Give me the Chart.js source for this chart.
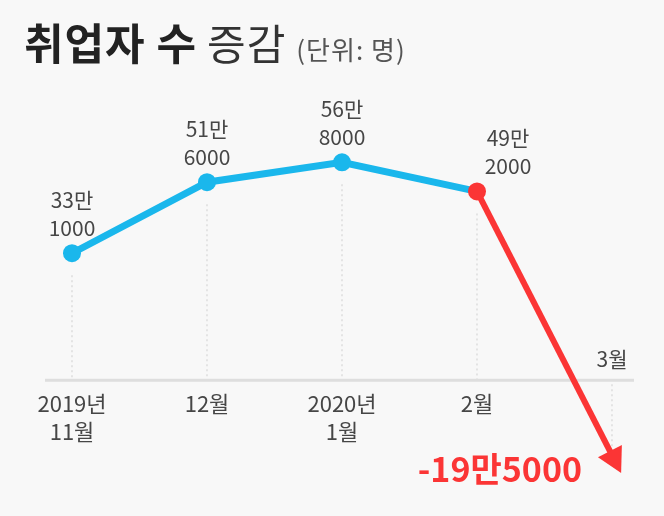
<!DOCTYPE html>
<html>
<head>
<meta charset="utf-8">
<script src="https://cdn.jsdelivr.net/npm/chart.js@4.4.1/dist/chart.umd.min.js"></script>
<style>
  html, body { margin: 0; padding: 0; background: #f8f8f8; }
  #wrap { position: relative; width: 664px; height: 516px; }
  #title {
    position: absolute; left: 24px; top: 10px;
    font-family: "Noto Sans CJK KR", sans-serif; white-space: nowrap;
  }
  #title .b { font-size: 43px; font-weight: 700; color: #222; letter-spacing: 1px; margin-right: 10px; }
  #title .r { font-size: 42px; font-weight: 400; color: #333; letter-spacing: 1px; margin-right: 10px; }
  #title .u { font-size: 26px; font-weight: 400; color: #555; letter-spacing: 1px; }
  canvas { position: absolute; left: 0; top: 0; }
</style>
</head>
<body>
<div id="wrap">
  <canvas id="lineChart" width="664" height="516"></canvas>
  <div id="title"><span class="b">취업자 수</span><span class="r">증감</span><span class="u">(단위: 명)</span></div>
</div>
<script>
// 월별 취업자 수 증감 (명)
const months = [['2019년', '11월'], '12월', ['2020년', '1월'], '2월', '3월'];
const changes = [331000, 516000, 568000, 492000, -195000];

const blue = '#1ab7ec';
const red = '#fb3535';
const font = '"Noto Sans CJK KR", sans-serif';

// 33만 1000 형식으로
function manLines(v) {
    const abs = Math.abs(v);
    const man = Math.floor(abs / 10000);
    const rest = abs % 10000;
    return [(v < 0 ? '-' : '') + man + '만', String(rest)];
}

const decoPlugin = {
    id: 'deco',
    beforeDatasetsDraw(chart) {
        const ctx = chart.ctx;
        const y0 = chart.scales.y.getPixelForValue(0);
        const pts = chart.getDatasetMeta(0).data;
        ctx.save();
        // 점선
        ctx.strokeStyle = '#cfcfcf';
        ctx.lineWidth = 1;
        ctx.setLineDash([2, 3]);
        pts.forEach(function (p, i) {
            ctx.beginPath();
            if (changes[i] >= 0) {
                ctx.moveTo(p.x, p.y + 22);
                ctx.lineTo(p.x, y0);
            } else {
                ctx.moveTo(p.x, y0 + 4);
                ctx.lineTo(p.x, p.y);
            }
            ctx.stroke();
        });
        // 기준선
        ctx.setLineDash([]);
        ctx.strokeStyle = '#dedede';
        ctx.lineWidth = 3;
        ctx.beginPath();
        ctx.moveTo(chart.chartArea.left - 27, y0);
        ctx.lineTo(chart.chartArea.right + 22, y0);
        ctx.stroke();
        ctx.restore();
    },
    afterDatasetsDraw(chart) {
        const ctx = chart.ctx;
        const y0 = chart.scales.y.getPixelForValue(0);
        const pts = chart.getDatasetMeta(0).data;
        ctx.save();
        // 화살표 (마지막 구간 연장 + 머리)
        const last = pts[pts.length - 1];
        const prev = pts[pts.length - 2];
        const ang = Math.atan2(last.y - prev.y, last.x - prev.x);
        const tipX = last.x + Math.cos(ang) * 20;
        const tipY = last.y + Math.sin(ang) * 20;
        ctx.strokeStyle = red;
        ctx.lineWidth = 6;
        ctx.beginPath();
        ctx.moveTo(last.x, last.y);
        ctx.lineTo(tipX - Math.cos(ang) * 10, tipY - Math.sin(ang) * 10);
        ctx.stroke();
        ctx.fillStyle = red;
        ctx.beginPath();
        ctx.moveTo(tipX, tipY);
        ctx.lineTo(tipX - Math.cos(ang - 0.5) * 28, tipY - Math.sin(ang - 0.5) * 28);
        ctx.lineTo(tipX - Math.cos(ang + 0.5) * 28, tipY - Math.sin(ang + 0.5) * 28);
        ctx.closePath();
        ctx.fill();

        // 값 라벨
        ctx.textAlign = 'center';
        ctx.textBaseline = 'middle';
        pts.forEach(function (p, i) {
            const v = changes[i];
            const lines = manLines(v);
            if (v >= 0) {
                const dx = (i === 3) ? 31 : 0;
                ctx.fillStyle = '#464646';
                ctx.font = '21px ' + font;
                ctx.fillText(lines[0], p.x + dx, p.y - 53);
                ctx.fillText(lines[1], p.x + dx, p.y - 25);
            } else {
                ctx.fillStyle = red;
                ctx.font = 'bold 34px ' + font;
                ctx.textAlign = 'right';
                ctx.fillText(lines[0] + lines[1], p.x - 30, p.y + 14);
                ctx.textAlign = 'center';
                // 3월은 기준선 위에
                ctx.fillStyle = '#464646';
                ctx.font = '21px ' + font;
                ctx.fillText(months[i], p.x, y0 - 21);
            }
        });
        ctx.restore();
    }
};

const ctx = document.getElementById('lineChart').getContext('2d');
const lineChart = new Chart(ctx, {
    type: 'line',
    data: {
        labels: months,
        datasets: [{
            data: changes,
            borderColor: blue,
            borderWidth: 7,
            segment: {
                borderColor: function (c) { return changes[c.p1DataIndex] < 0 ? red : blue; },
                borderWidth: function (c) { return changes[c.p1DataIndex] < 0 ? 6 : 7; }
            },
            pointRadius: [9, 9, 9, 9, 0],
            pointBackgroundColor: [blue, blue, blue, red, red],
            pointBorderWidth: 0,
            tension: 0,
            clip: false
        }]
    },
    plugins: [decoPlugin],
    options: {
        responsive: false,
        animation: false,
        layout: { padding: { top: 150, bottom: 59, left: 72, right: 52 } },
        plugins: {
            legend: { display: false },
            tooltip: { enabled: false }
        },
        scales: {
            y: { display: false, min: -200000, max: 600000 },
            x: {
                position: { y: 0 },
                offset: false,
                grid: { display: false },
                border: { display: false },
                ticks: {
                    padding: 2,
                    color: '#464646',
                    font: { family: font, size: 22, lineHeight: 1.25 },
                    maxRotation: 0,
                    autoSkip: false,
                    callback: function (val, i) { return i === months.length - 1 ? '' : months[i]; }
                }
            }
        }
    }
});
</script>
</body>
</html>
